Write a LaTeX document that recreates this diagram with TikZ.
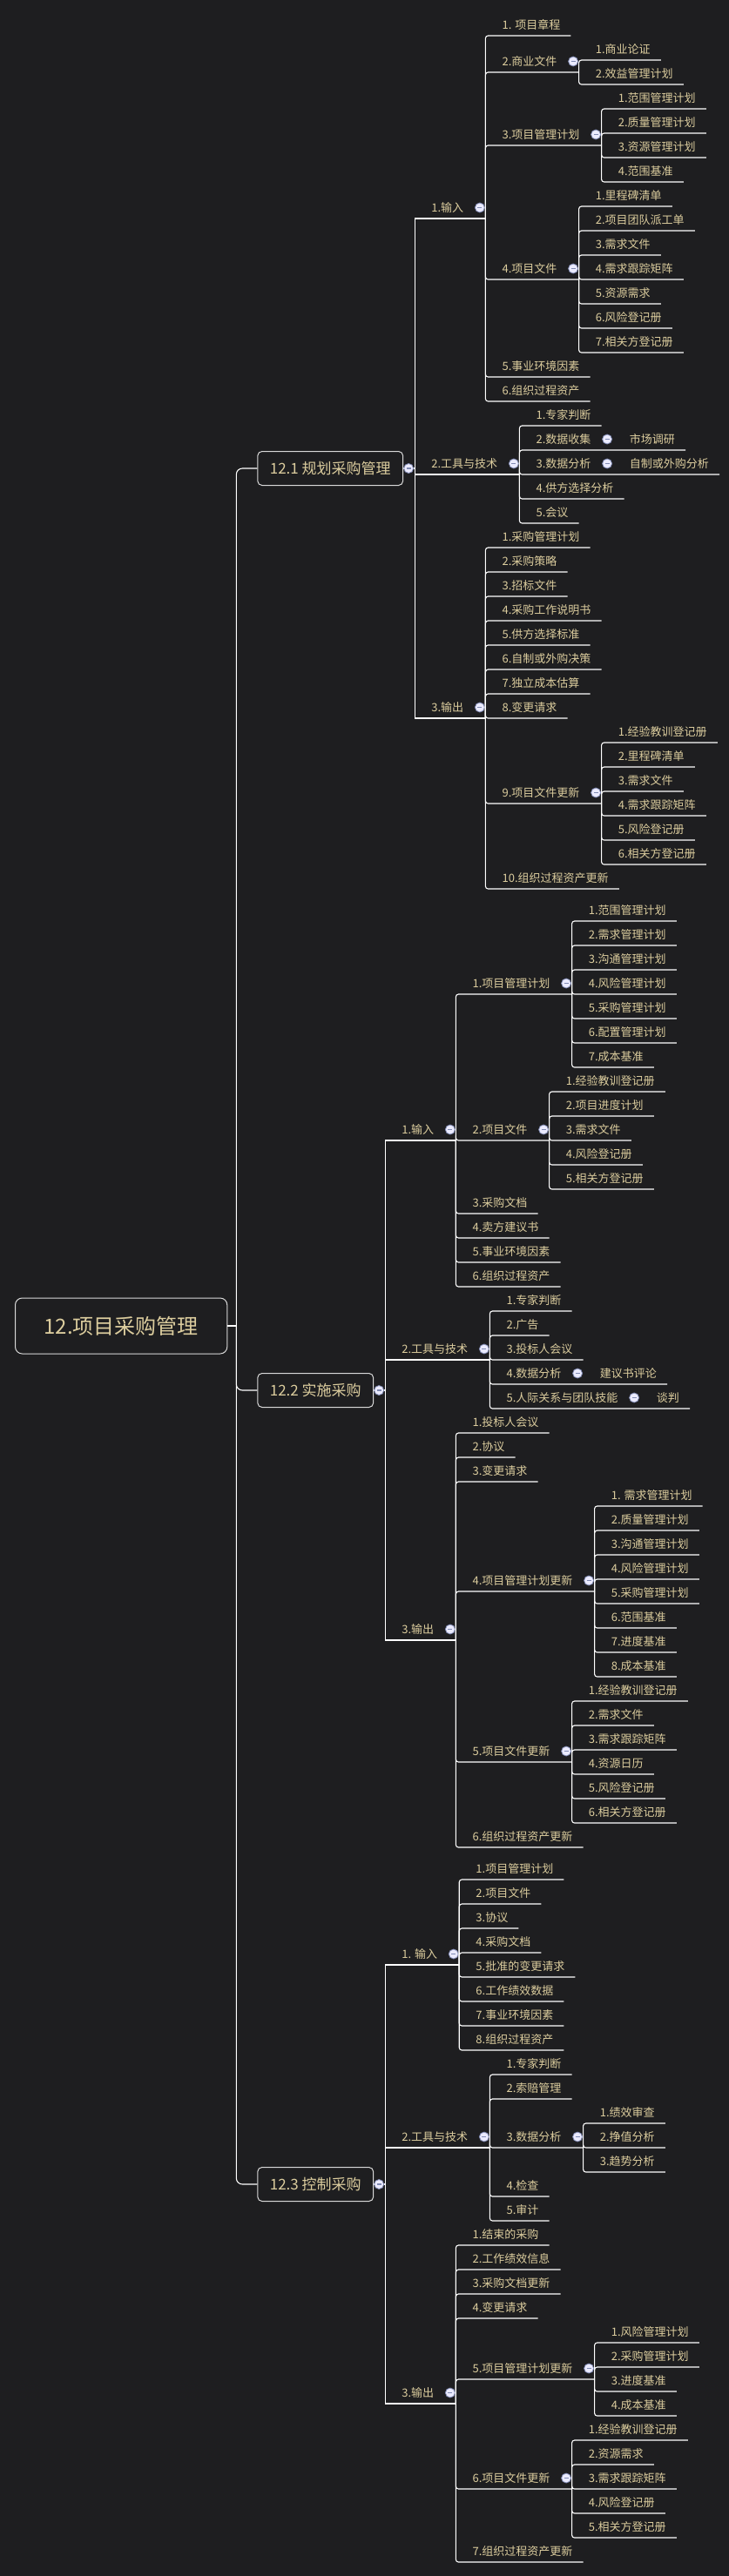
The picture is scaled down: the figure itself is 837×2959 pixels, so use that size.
\documentclass[tikz,border=0pt]{standalone}
\usepackage{fontspec}
\setmainfont{Noto Sans CJK SC}
\usepackage{tikz}
\definecolor{bg}{RGB}{30,30,32}
\definecolor{txt}{RGB}{220,205,158}
\definecolor{foldc}{RGB}{128,138,178}

\begin{document}
\begin{tikzpicture}[x=1pt, y=-1pt,
  link/.style={white, line width=1.1pt, rounded corners=3pt},
  item/.style={anchor=south west, xshift=7pt, inner xsep=12pt, inner ysep=0pt, text height=10pt, text depth=7.5pt, text=txt, font=\fontsize{13}{15}\selectfont},
  sec/.style={draw=white!85!black, line width=1pt, rounded corners=5pt, anchor=west, xshift=24pt, inner xsep=14pt, minimum height=39pt, text=txt, font=\fontsize{17}{20}\selectfont},
  main/.style={draw=white!85!black, line width=1pt, rounded corners=8pt, anchor=west, inner xsep=33pt, minimum height=64pt, text=txt, font=\fontsize{24}{28}\selectfont},
  fold/.style={circle, draw=foldc, fill=white!92!blue, line width=0.8pt, minimum size=11pt, inner sep=0pt,
    path picture={\draw[foldc, line width=1.3pt] ([xshift=-2.6pt]path picture bounding box.center) -- ([xshift=2.6pt]path picture bounding box.center);}}]
\fill[bg, use as bounding box] (0,0) rectangle (837,2959);

\node[main] (proc) at (17,1523) {12.项目采购管理};
\coordinate (proc-v) at ([xshift=10pt]proc.east);
\draw[link] (proc.east) -- (proc-v);
\node[sec] (plan) at (proc-v |- 0,538) {12.1 规划采购管理};
\node[sec] (exec) at (proc-v |- 0,1597) {12.2 实施采购};
\node[sec] (ctrl) at (proc-v |- 0,2509) {12.3 控制采购};
\foreach \n in {plan,exec,ctrl} {
  \draw[link, rounded corners=7pt] (proc-v) |- (\n.west);
  \coordinate (\n-v) at ([xshift=13pt]\n.east);
  \draw[link] (\n.east) -- (\n-v);
  \node[fold] (\n-f) at ([xshift=6pt]\n.east) {};
}

\node[item] (plan-in) at (plan-v |- 0,251) {1.输入};
\node[item] (plan-tt) at (plan-v |- 0,545) {2.工具与技术};
\node[item] (plan-out) at (plan-v |- 0,825) {3.输出};
\node[item] (exec-in) at (exec-v |- 0,1310) {1.输入};
\node[item] (exec-tt) at (exec-v |- 0,1562) {2.工具与技术};
\node[item] (exec-out) at (exec-v |- 0,1884) {3.输出};
\node[item] (ctrl-in) at (ctrl-v |- 0,2257) {1. 输入};
\node[item] (ctrl-tt) at (ctrl-v |- 0,2467) {2.工具与技术};
\node[item] (ctrl-out) at (ctrl-v |- 0,2761) {3.输出};
\foreach \s in {plan,exec,ctrl}
  \foreach \n in {in,tt,out} {
    \coordinate (\s-\n-v) at ([xshift=13pt]\s-\n.south east);
    \draw[link, sharp corners] (\s-v) |- (\s-\n-v);
    \node[fold] (\s-\n-f) at ([xshift=6.5pt,yshift=12.5pt]\s-\n.south east) {};
  }

\node[item] (plan-in1) at (plan-in-v |- 0,41) {1. 项目章程};
\node[item] (plan-in2) at (plan-in-v |- 0,83) {2.商业文件};
\node[item] (plan-in3) at (plan-in-v |- 0,167) {3.项目管理计划};
\node[item] (plan-in4) at (plan-in-v |- 0,321) {4.项目文件};
\node[item] (plan-in5) at (plan-in-v |- 0,433) {5.事业环境因素};
\node[item] (plan-in6) at (plan-in-v |- 0,461) {6.组织过程资产};
\foreach \n in {1,5,6} \draw[link] (plan-in-v) |- (plan-in\n.south east);
\foreach \n in {2,3,4} {
  \coordinate (plan-in\n-v) at ([xshift=13pt]plan-in\n.south east);
  \draw[link] (plan-in-v) |- (plan-in\n-v);
  \node[fold] (plan-in\n-f) at ([xshift=6.5pt,yshift=12.5pt]plan-in\n.south east) {};
}
\foreach \lbl [count=\k] in {1.商业论证,2.效益管理计划} {
  \pgfmathsetmacro\ly{41+28*\k}
  \node[item] (plan-in2-\k) at (plan-in2-v |- 0,\ly) {\lbl};
  \draw[link] (plan-in2-v) |- (plan-in2-\k.south east);
}
\foreach \lbl [count=\k] in {1.范围管理计划,2.质量管理计划,3.资源管理计划,4.范围基准} {
  \pgfmathsetmacro\ly{97+28*\k}
  \node[item] (plan-in3-\k) at (plan-in3-v |- 0,\ly) {\lbl};
  \draw[link] (plan-in3-v) |- (plan-in3-\k.south east);
}
\foreach \lbl [count=\k] in {1.里程碑清单,2.项目团队派工单,3.需求文件,4.需求跟踪矩阵,5.资源需求,6.风险登记册,7.相关方登记册} {
  \pgfmathsetmacro\ly{209+28*\k}
  \node[item] (plan-in4-\k) at (plan-in4-v |- 0,\ly) {\lbl};
  \draw[link] (plan-in4-v) |- (plan-in4-\k.south east);
}

\node[item] (plan-tt1) at (plan-tt-v |- 0,489) {1.专家判断};
\node[item] (plan-tt2) at (plan-tt-v |- 0,517) {2.数据收集};
\node[item] (plan-tt3) at (plan-tt-v |- 0,545) {3.数据分析};
\node[item] (plan-tt4) at (plan-tt-v |- 0,573) {4.供方选择分析};
\node[item] (plan-tt5) at (plan-tt-v |- 0,601) {5.会议};
\foreach \n in {1,4,5} \draw[link] (plan-tt-v) |- (plan-tt\n.south east);
\foreach \n in {2,3} {
  \coordinate (plan-tt\n-v) at ([xshift=13pt]plan-tt\n.south east);
  \node[fold] (plan-tt\n-f) at ([xshift=6.5pt,yshift=12.5pt]plan-tt\n.south east) {};
}
\node[item] (plan-tt2-1) at (plan-tt2-v |- 0,517) {市场调研};
\node[item] (plan-tt3-1) at (plan-tt3-v |- 0,545) {自制或外购分析};
\foreach \n in {2,3} \draw[link] (plan-tt-v) |- (plan-tt\n-1.south east);

\foreach \lbl [count=\k] in {1.采购管理计划,2.采购策略,3.招标文件,4.采购工作说明书,5.供方选择标准,6.自制或外购决策,7.独立成本估算,8.变更请求} {
  \pgfmathsetmacro\ly{601+28*\k}
  \node[item] (plan-out\k) at (plan-out-v |- 0,\ly) {\lbl};
  \draw[link] (plan-out-v) |- (plan-out\k.south east);
}
\node[item] (plan-out9) at (plan-out-v |- 0,923) {9.项目文件更新};
\node[item] (plan-out10) at (plan-out-v |- 0,1021) {10.组织过程资产更新};
\draw[link] (plan-out-v) |- (plan-out10.south east);
\coordinate (plan-out9-v) at ([xshift=13pt]plan-out9.south east);
\draw[link] (plan-out-v) |- (plan-out9-v);
\node[fold] (plan-out9-f) at ([xshift=6.5pt,yshift=12.5pt]plan-out9.south east) {};
\foreach \lbl [count=\k] in {1.经验教训登记册,2.里程碑清单,3.需求文件,4.需求跟踪矩阵,5.风险登记册,6.相关方登记册} {
  \pgfmathsetmacro\ly{825+28*\k}
  \node[item] (plan-out9-\k) at (plan-out9-v |- 0,\ly) {\lbl};
  \draw[link] (plan-out9-v) |- (plan-out9-\k.south east);
}

\node[item] (exec-in1) at (exec-in-v |- 0,1142) {1.项目管理计划};
\node[item] (exec-in2) at (exec-in-v |- 0,1310) {2.项目文件};
\foreach \n in {1,2} {
  \coordinate (exec-in\n-v) at ([xshift=13pt]exec-in\n.south east);
  \draw[link] (exec-in-v) |- (exec-in\n-v);
  \node[fold] (exec-in\n-f) at ([xshift=6.5pt,yshift=12.5pt]exec-in\n.south east) {};
}
\foreach \lbl [count=\k from 3] in {3.采购文档,4.卖方建议书,5.事业环境因素,6.组织过程资产} {
  \pgfmathsetmacro\ly{1310+28*\k}
  \node[item] (exec-in\k) at (exec-in-v |- 0,\ly) {\lbl};
  \draw[link] (exec-in-v) |- (exec-in\k.south east);
}
\foreach \lbl [count=\k] in {1.范围管理计划,2.需求管理计划,3.沟通管理计划,4.风险管理计划,5.采购管理计划,6.配置管理计划,7.成本基准} {
  \pgfmathsetmacro\ly{1030+28*\k}
  \node[item] (exec-in1-\k) at (exec-in1-v |- 0,\ly) {\lbl};
  \draw[link] (exec-in1-v) |- (exec-in1-\k.south east);
}
\foreach \lbl [count=\k] in {1.经验教训登记册,2.项目进度计划,3.需求文件,4.风险登记册,5.相关方登记册} {
  \pgfmathsetmacro\ly{1226+28*\k}
  \node[item] (exec-in2-\k) at (exec-in2-v |- 0,\ly) {\lbl};
  \draw[link] (exec-in2-v) |- (exec-in2-\k.south east);
}

\foreach \lbl [count=\k] in {1.专家判断,2.广告,3.投标人会议} {
  \pgfmathsetmacro\ly{1478+28*\k}
  \node[item] (exec-tt\k) at (exec-tt-v |- 0,\ly) {\lbl};
  \draw[link] (exec-tt-v) |- (exec-tt\k.south east);
}
\node[item] (exec-tt4) at (exec-tt-v |- 0,1590) {4.数据分析};
\node[item] (exec-tt5) at (exec-tt-v |- 0,1618) {5.人际关系与团队技能};
\foreach \n in {4,5} {
  \coordinate (exec-tt\n-v) at ([xshift=13pt]exec-tt\n.south east);
  \node[fold] (exec-tt\n-f) at ([xshift=6.5pt,yshift=12.5pt]exec-tt\n.south east) {};
}
\node[item] (exec-tt4-1) at (exec-tt4-v |- 0,1590) {建议书评论};
\node[item] (exec-tt5-1) at (exec-tt5-v |- 0,1618) {谈判};
\foreach \n in {4,5} \draw[link] (exec-tt-v) |- (exec-tt\n-1.south east);

\foreach \lbl [count=\k] in {1.投标人会议,2.协议,3.变更请求} {
  \pgfmathsetmacro\ly{1618+28*\k}
  \node[item] (exec-out\k) at (exec-out-v |- 0,\ly) {\lbl};
  \draw[link] (exec-out-v) |- (exec-out\k.south east);
}
\node[item] (exec-out4) at (exec-out-v |- 0,1828) {4.项目管理计划更新};
\node[item] (exec-out5) at (exec-out-v |- 0,2024) {5.项目文件更新};
\node[item] (exec-out6) at (exec-out-v |- 0,2122) {6.组织过程资产更新};
\draw[link] (exec-out-v) |- (exec-out6.south east);
\foreach \n in {4,5} {
  \coordinate (exec-out\n-v) at ([xshift=13pt]exec-out\n.south east);
  \draw[link] (exec-out-v) |- (exec-out\n-v);
  \node[fold] (exec-out\n-f) at ([xshift=6.5pt,yshift=12.5pt]exec-out\n.south east) {};
}
\foreach \lbl [count=\k] in {1. 需求管理计划,2.质量管理计划,3.沟通管理计划,4.风险管理计划,5.采购管理计划,6.范围基准,7.进度基准,8.成本基准} {
  \pgfmathsetmacro\ly{1702+28*\k}
  \node[item] (exec-out4-\k) at (exec-out4-v |- 0,\ly) {\lbl};
  \draw[link] (exec-out4-v) |- (exec-out4-\k.south east);
}
\foreach \lbl [count=\k] in {1.经验教训登记册,2.需求文件,3.需求跟踪矩阵,4.资源日历,5.风险登记册,6.相关方登记册} {
  \pgfmathsetmacro\ly{1926+28*\k}
  \node[item] (exec-out5-\k) at (exec-out5-v |- 0,\ly) {\lbl};
  \draw[link] (exec-out5-v) |- (exec-out5-\k.south east);
}

\foreach \lbl [count=\k] in {1.项目管理计划,2.项目文件,3.协议,4.采购文档,5.批准的变更请求,6.工作绩效数据,7.事业环境因素,8.组织过程资产} {
  \pgfmathsetmacro\ly{2131+28*\k}
  \node[item] (ctrl-in\k) at (ctrl-in-v |- 0,\ly) {\lbl};
  \draw[link] (ctrl-in-v) |- (ctrl-in\k.south east);
}

\node[item] (ctrl-tt1) at (ctrl-tt-v |- 0,2383) {1.专家判断};
\node[item] (ctrl-tt2) at (ctrl-tt-v |- 0,2411) {2.索赔管理};
\node[item] (ctrl-tt3) at (ctrl-tt-v |- 0,2467) {3.数据分析};
\node[item] (ctrl-tt4) at (ctrl-tt-v |- 0,2523) {4.检查};
\node[item] (ctrl-tt5) at (ctrl-tt-v |- 0,2551) {5.审计};
\foreach \n in {1,2,4,5} \draw[link] (ctrl-tt-v) |- (ctrl-tt\n.south east);
\coordinate (ctrl-tt3-v) at ([xshift=13pt]ctrl-tt3.south east);
\draw[link] (ctrl-tt-v) |- (ctrl-tt3-v);
\node[fold] (ctrl-tt3-f) at ([xshift=6.5pt,yshift=12.5pt]ctrl-tt3.south east) {};
\foreach \lbl [count=\k] in {1.绩效审查,2.挣值分析,3.趋势分析} {
  \pgfmathsetmacro\ly{2411+28*\k}
  \node[item] (ctrl-tt3-\k) at (ctrl-tt3-v |- 0,\ly) {\lbl};
  \draw[link] (ctrl-tt3-v) |- (ctrl-tt3-\k.south east);
}

\foreach \lbl [count=\k] in {1.结束的采购,2.工作绩效信息,3.采购文档更新,4.变更请求} {
  \pgfmathsetmacro\ly{2551+28*\k}
  \node[item] (ctrl-out\k) at (ctrl-out-v |- 0,\ly) {\lbl};
  \draw[link] (ctrl-out-v) |- (ctrl-out\k.south east);
}
\node[item] (ctrl-out5) at (ctrl-out-v |- 0,2733) {5.项目管理计划更新};
\node[item] (ctrl-out6) at (ctrl-out-v |- 0,2859) {6.项目文件更新};
\node[item] (ctrl-out7) at (ctrl-out-v |- 0,2943) {7.组织过程资产更新};
\draw[link] (ctrl-out-v) |- (ctrl-out7.south east);
\foreach \n in {5,6} {
  \coordinate (ctrl-out\n-v) at ([xshift=13pt]ctrl-out\n.south east);
  \draw[link] (ctrl-out-v) |- (ctrl-out\n-v);
  \node[fold] (ctrl-out\n-f) at ([xshift=6.5pt,yshift=12.5pt]ctrl-out\n.south east) {};
}
\foreach \lbl [count=\k] in {1.风险管理计划,2.采购管理计划,3.进度基准,4.成本基准} {
  \pgfmathsetmacro\ly{2663+28*\k}
  \node[item] (ctrl-out5-\k) at (ctrl-out5-v |- 0,\ly) {\lbl};
  \draw[link] (ctrl-out5-v) |- (ctrl-out5-\k.south east);
}
\foreach \lbl [count=\k] in {1.经验教训登记册,2.资源需求,3.需求跟踪矩阵,4.风险登记册,5.相关方登记册} {
  \pgfmathsetmacro\ly{2775+28*\k}
  \node[item] (ctrl-out6-\k) at (ctrl-out6-v |- 0,\ly) {\lbl};
  \draw[link] (ctrl-out6-v) |- (ctrl-out6-\k.south east);
}
\end{tikzpicture}
\end{document}
